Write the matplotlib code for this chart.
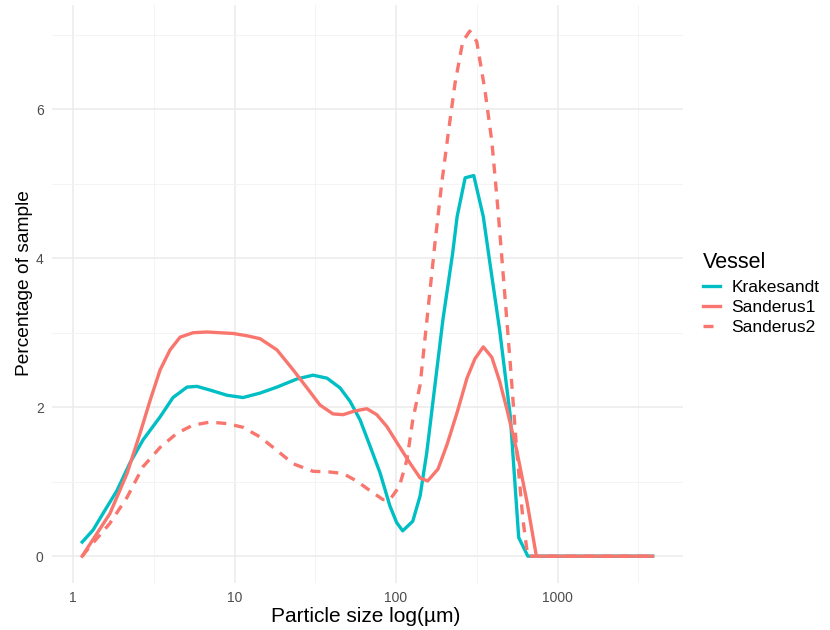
import numpy as np
import matplotlib
matplotlib.use("Agg")
import matplotlib.pyplot as plt
from matplotlib.lines import Line2D

plt.rcParams["font.family"] = ["Liberation Sans", "DejaVu Sans"]

# particle size (um) and percentage of sample
kr_x = [1.14, 1.33, 1.53, 1.87, 2.25, 2.71, 3.46, 4.16, 5.08, 5.85, 7.06, 9.0, 11.3, 14.4,
        18.3, 24.4, 30.6, 37.4, 45, 51.9, 59.9, 69, 79.6, 91.8, 101, 110, 127, 141, 155,
        169, 195, 224, 239, 268, 303, 347, 380, 438, 510, 575, 655, 3880]
kr_y = [0.19, 0.35, 0.57, 0.88, 1.25, 1.56, 1.87, 2.13, 2.27, 2.28, 2.23, 2.16, 2.13, 2.19,
        2.27, 2.38, 2.43, 2.39, 2.26, 2.08, 1.83, 1.48, 1.12, 0.67, 0.45, 0.34, 0.47, 0.81, 1.39,
        2.06, 3.17, 4.06, 4.56, 5.08, 5.11, 4.56, 3.96, 3.04, 1.88, 0.25, 0.0, 0.0]

s1_x = [1.14, 1.22, 1.69, 2.16, 2.6, 3.0, 3.46, 3.99, 4.6, 5.53, 6.74, 9.8, 11.9, 14.4,
        18.3, 23.1, 28.1, 33.8, 40.7, 47, 55.6, 66, 76, 87.8, 103, 122, 141, 157, 182, 207,
        239, 275, 308, 347, 392, 438, 485, 559, 647, 740, 3880]
s1_y = [0.0, 0.1, 0.57, 1.11, 1.65, 2.09, 2.5, 2.77, 2.94, 3.0, 3.01, 2.99, 2.96, 2.92,
        2.77, 2.50, 2.26, 2.03, 1.91, 1.90, 1.95, 1.98, 1.90, 1.74, 1.50, 1.25, 1.05, 1.01, 1.17,
        1.50, 1.93, 2.39, 2.65, 2.81, 2.67, 2.35, 1.98, 1.42, 0.73, 0.0, 0.0]

s2_x = [1.14, 1.24, 1.69, 2.16, 2.71, 3.46, 4.4, 5.53, 7.06, 9.0, 11.3, 14.4, 18.3, 23.1,
        30.6, 39, 47, 57, 69, 83, 91.8, 105, 117, 127, 141, 155, 174, 191, 210, 232, 259,
        286, 316, 355, 392, 428, 472, 510, 559, 610, 654, 3880]
s2_y = [0.0, 0.1, 0.44, 0.79, 1.2, 1.46, 1.65, 1.76, 1.8, 1.78, 1.73, 1.6, 1.42, 1.24,
        1.14, 1.13, 1.11, 1.01, 0.88, 0.76, 0.76, 0.94, 1.30, 1.83, 2.3, 3.15, 4.19, 4.97, 5.66,
        6.35, 6.91, 7.05, 6.91, 6.26, 5.57, 4.65, 3.5, 2.58, 1.42, 0.5, 0.0, 0.0]

vessels = ["Krakesandt", "Sanderus1", "Sanderus2"]
teal = "#00BFC4"
salmon = "#F8766D"
grey = "#4D4D4D"
dash = (0, (3.0, 2.4))
lw = 2.4

fig = plt.figure(figsize=(8.3, 6.3), dpi=100)
W, H = 830, 630
left, right, top, bottom = 52, 683, 5, 583
ax = fig.add_axes([left / W, 1 - bottom / H, (right - left) / W, (bottom - top) / H])

ax.plot(kr_x, kr_y, color=teal, lw=lw, solid_joinstyle="round")
ax.plot(s1_x, s1_y, color=salmon, lw=lw, solid_joinstyle="round")
ax.plot(s2_x, s2_y, color=salmon, lw=lw, ls=dash)

ax.set_xscale("log")
ax.set_xlim(0.741, 5984)
ax.set_ylim(-0.36, 7.40)

ax.set_xticks([1, 10, 100, 1000])
ax.set_xticklabels(["1", "10", "100", "1000"])
ax.set_xticks([10 ** 0.5, 10 ** 1.5, 10 ** 2.5, 10 ** 3.5], minor=True)
ax.xaxis.set_minor_formatter(plt.NullFormatter())
ax.set_yticks([0, 2, 4, 6])
ax.set_yticks([1, 3, 5, 7], minor=True)
ax.tick_params(which="both", length=0, labelsize=10, colors=grey, pad=6)
ax.grid(which="major", color="#EBEBEB", lw=1.1)
ax.grid(which="minor", color="#F3F3F3", lw=0.6)
ax.set_axisbelow(True)
for s in ax.spines.values():
    s.set_visible(False)

ax.set_xlabel("Particle size log(µm)", fontsize=15, color="black")
ax.set_ylabel("Percentage of sample", fontsize=13.8, color="black")
ax.xaxis.set_label_coords(0.4976, -0.041)
ax.yaxis.set_label_coords(-0.030, 0.519)

handles = [Line2D([], [], color=teal, lw=lw),
           Line2D([], [], color=salmon, lw=lw),
           Line2D([], [], color=salmon, lw=lw, ls=dash)]
leg = fig.legend(handles, vessels, title="Vessel", loc="upper left",
                 bbox_to_anchor=(694 / W, 1 - 243 / H), frameon=False,
                 fontsize=12.5, title_fontsize=15.5, handlelength=0.98,
                 handletextpad=0.69, labelspacing=0.28, borderpad=0)
leg._legend_box.align = "left"
leg._legend_box.sep = 5

fig.savefig("out.png", dpi=100)
